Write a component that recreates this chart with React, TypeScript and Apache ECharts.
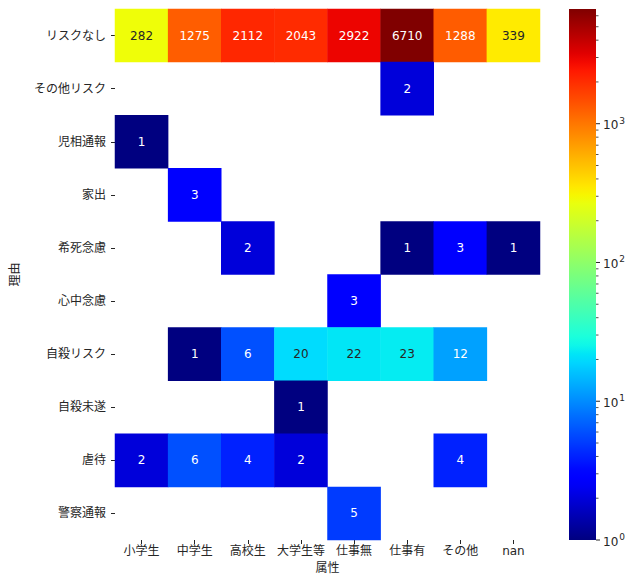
import React, { useEffect, useRef } from "react";
import * as echarts from "echarts";

const xCats = ["小学生", "中学生", "高校生", "大学生等", "仕事無", "仕事有", "その他", "nan"];
const yCats = ["リスクなし", "その他リスク", "児相通報", "家出", "希死念慮", "心中念慮", "自殺リスク", "自殺未遂", "虐待", "警察通報"];

const rowNoRisk = [282, 1275, 2112, 2043, 2922, 6710, 1288, 339];
const rowOtherRisk = [null, null, null, null, null, 2, null, null];
const rowChildGuidance = [1, null, null, null, null, null, null, null];
const rowRunaway = [null, 3, null, null, null, null, null, null];
const rowDeathWish = [null, null, 2, null, null, 1, 3, 1];
const rowFamilySuicide = [null, null, null, null, 3, null, null, null];
const rowSuicideRisk = [null, 1, 6, 20, 22, 23, 12, null];
const rowAttempt = [null, null, null, 1, null, null, null, null];
const rowAbuse = [2, 6, 4, 2, null, null, 4, null];
const rowPolice = [null, null, null, null, 5, null, null, null];

const rows: (number | null)[][] = [
  rowNoRisk, rowOtherRisk, rowChildGuidance, rowRunaway, rowDeathWish,
  rowFamilySuicide, rowSuicideRisk, rowAttempt, rowAbuse, rowPolice,
];

const colorbarMajorExponents = [0, 1, 2, 3];
const colorbarMinorValues = [2, 3, 4, 5, 6, 7, 8, 9, 20, 30, 40, 50, 60, 70, 80, 90, 200, 300, 400, 500, 600, 700, 800, 900, 2000, 3000, 4000, 5000, 6000];

const FONT = "'DejaVu Sans', 'Noto Sans CJK JP', sans-serif";
const TXT = "#262626";

const JET_R: [number, number][] = [[0, 0], [0.35, 0], [0.66, 1], [0.89, 1], [1, 0.5]];
const JET_G: [number, number][] = [[0, 0], [0.125, 0], [0.375, 1], [0.64, 1], [0.91, 0], [1, 0]];
const JET_B: [number, number][] = [[0, 0.5], [0.11, 1], [0.34, 1], [0.65, 0], [1, 0]];

function seg(s: [number, number][], t: number) {
  for (let i = 1; i < s.length; i++) {
    if (t <= s[i][0]) {
      const [x0, y0] = s[i - 1];
      const [x1, y1] = s[i];
      return y0 + ((t - x0) / (x1 - x0)) * (y1 - y0);
    }
  }
  return s[s.length - 1][1];
}
function jetRGB(t: number) {
  t = Math.max(0, Math.min(1, t));
  return [seg(JET_R, t), seg(JET_G, t), seg(JET_B, t)];
}
function toHex(c: number[]) {
  return "#" + c.map((v) => Math.round(v * 255).toString(16).padStart(2, "0")).join("");
}
function lum(c: number[]) {
  const l = c.map((v) => (v <= 0.03928 ? v / 12.92 : Math.pow((v + 0.055) / 1.055, 2.4)));
  return 0.2126 * l[0] + 0.7152 * l[1] + 0.0722 * l[2];
}

export default function App() {
  const ref = useRef<HTMLDivElement>(null);
  useEffect(() => {
    if (!ref.current) return;
    const chart = echarts.init(ref.current, null, { renderer: "svg" });
    const all = rows.flat().filter((v): v is number => v != null);
    const vmin = 1;
    const vmax = Math.max(...all);
    const LOGMAX = Math.log10(vmax);
    const norm = (v: number) => (Math.log10(v) - Math.log10(vmin)) / (LOGMAX - Math.log10(vmin));

    const data: any[] = [];
    rows.forEach((row, i) => {
      row.forEach((v, j) => {
        if (v == null) return;
        const t = norm(v);
        const rgb = jetRGB(t);
        data.push({
          value: [j, i, v, t],
          label: { color: lum(rgb) > 0.408 ? TXT : "#ffffff" },
        });
      });
    });

    const palette: string[] = [];
    for (let k = 0; k < 256; k++) palette.push(toHex(jetRGB(k / 255)));

    const stops: any[] = [];
    const N = 60;
    for (let k = 0; k <= N; k++) {
      stops.push({ offset: k / N, color: toHex(jetRGB(1 - k / N)) });
    }

    const option: any = {
      animation: false,
      backgroundColor: "#ffffff",
      textStyle: { fontFamily: FONT },
      grid: [
        { left: 115, right: 88, top: 9, bottom: 34, outerBoundsMode: "none", containLabel: false },
        { left: 569, right: 32, top: 9, bottom: 34, outerBoundsMode: "none", containLabel: false },
      ],
      visualMap: {
        type: "continuous",
        show: false,
        seriesIndex: 0,
        dimension: 3,
        min: 0,
        max: 1,
        inRange: { color: palette },
      },
      xAxis: [
        {
          type: "category",
          gridIndex: 0,
          data: xCats,
          axisLine: { show: false },
          axisTick: { show: true, alignWithLabel: true, length: 4, lineStyle: { color: TXT } },
          axisLabel: { margin: 5, fontSize: 12, color: TXT, fontFamily: FONT, interval: 0 },
          splitLine: { show: false },
          name: "属性",
          nameLocation: "middle",
          nameGap: 18,
          nameTextStyle: { fontSize: 12, color: TXT, fontFamily: FONT },
        },
        { type: "value", gridIndex: 1, min: 0, max: 1, show: false },
      ],
      yAxis: [
        {
          type: "category",
          gridIndex: 0,
          data: yCats,
          inverse: true,
          axisLine: { show: false },
          axisTick: { show: true, alignWithLabel: true, length: 4, lineStyle: { color: TXT } },
          axisLabel: { margin: 9, fontSize: 12, color: TXT, fontFamily: FONT, interval: 0 },
          splitLine: { show: false },
          name: "理由",
          nameLocation: "middle",
          nameGap: 94,
          nameRotate: 90,
          nameTextStyle: { fontSize: 12, color: TXT, fontFamily: FONT },
        },
        {
          type: "value",
          gridIndex: 1,
          min: 0,
          max: LOGMAX,
          interval: 1,
          position: "right",
          axisLine: { show: false },
          axisTick: { show: false },
          splitLine: { show: false },
          axisLabel: {
            margin: 7,
            color: TXT,
            formatter: (v: number) =>
              Math.abs(v - Math.round(v)) < 1e-9 && colorbarMajorExponents.includes(Math.round(v))
                ? `{b|10}{s|${Math.round(v)}}`
                : "",
            rich: {
              b: { fontSize: 12, fontFamily: FONT, color: TXT, verticalAlign: "bottom" },
              s: { fontSize: 9, fontFamily: FONT, color: TXT, verticalAlign: "bottom", padding: [0, 0, 6, 1] },
            },
          },
        },
      ],
      series: [
        {
          type: "heatmap",
          xAxisIndex: 0,
          yAxisIndex: 0,
          data,
          label: {
            show: true,
            fontSize: 12,
            fontFamily: FONT,
            formatter: (p: any) => String(p.value[2]),
          },
          emphasis: { disabled: true },
        },
        {
          type: "custom",
          xAxisIndex: 1,
          yAxisIndex: 1,
          clip: false,
          data: [[0]],
          renderItem: (_p: any, api: any) => {
            const a = api.coord([0, LOGMAX]);
            const b = api.coord([1, 0]);
            return {
              type: "rect",
              shape: { x: a[0], y: a[1], width: b[0] - a[0], height: b[1] - a[1] },
              style: { fill: new echarts.graphic.LinearGradient(0, 0, 0, 1, stops) },
            };
          },
        },
        {
          type: "custom",
          xAxisIndex: 1,
          yAxisIndex: 1,
          clip: false,
          data: colorbarMajorExponents.map((e) => [e]),
          renderItem: (_p: any, api: any) => {
            const p = api.coord([1, api.value(0)]);
            return {
              type: "line",
              shape: { x1: p[0], y1: p[1], x2: p[0] + 4, y2: p[1] },
              style: { stroke: TXT, lineWidth: 1 },
            };
          },
        },
        {
          type: "custom",
          xAxisIndex: 1,
          yAxisIndex: 1,
          clip: false,
          data: colorbarMinorValues.map((v) => [Math.log10(v)]),
          renderItem: (_p: any, api: any) => {
            const p = api.coord([1, api.value(0)]);
            return {
              type: "line",
              shape: { x1: p[0], y1: p[1], x2: p[0] + 2.5, y2: p[1] },
              style: { stroke: TXT, lineWidth: 0.8 },
            };
          },
        },
      ],
    };
    chart.setOption(option);
    return () => chart.dispose();
  }, []);
  return (
    <div
      ref={ref}
      style={{ position: "fixed", left: 0, top: 0, width: 628, height: 574 }}
    />
  );
}
